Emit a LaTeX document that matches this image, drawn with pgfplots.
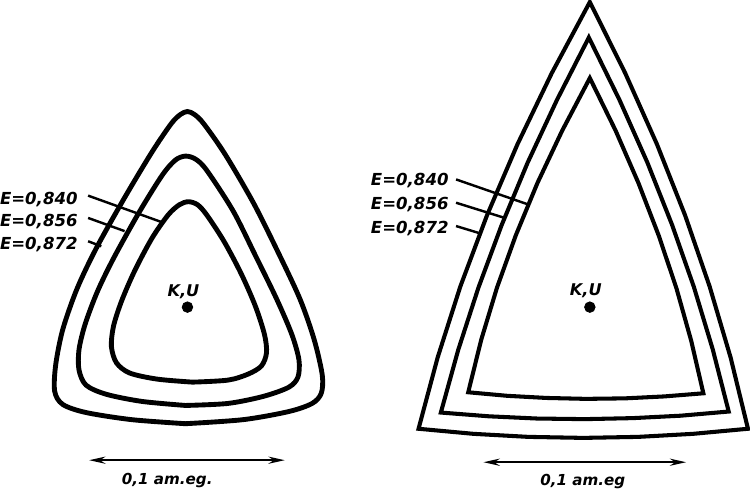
\documentclass[border=0pt]{standalone}
\usepackage{pgfplots}
\pgfplotsset{compat=1.18}
\usepackage{fontspec}
\setmainfont{DejaVu Sans}
\usetikzlibrary{arrows.meta}
\tikzset{
  lbl/.style={font=\fontsize{8.2}{10}\selectfont\bfseries\itshape, inner sep=0pt},
  kulbl/.style={font=\fontsize{8}{9}\selectfont\bfseries\itshape, inner sep=0pt},
  barlbl/.style={font=\fontsize{7.5}{9}\selectfont\bfseries\itshape, inner sep=0pt},
}

\begin{document}
\begin{tikzpicture}
\begin{axis}[
  scale only axis, width=375bp, height=246.5bp,
  xmin=0, xmax=750, ymin=0, ymax=493, y dir=reverse,
  hide axis, clip=false,
  every axis plot/.append style={black},
]
% ---------- left panel: rounded contours ----------
% E = 0,872
\addplot[smooth, line width=2.4bp] coordinates {
 (193,428) (140,424) (95,417) (72,409) (64,396) (65,370) (72,335) (86,295)
 (105,255) (133,205) (160,160) (179,132) (188,123) (195,120) (202,123) (211,132)
 (232,162) (260,210) (284,258) (306,305) (320,345) (328,380) (327,398) (318,408)
 (295,416) (250,424) (193,428)};
% E = 0,856
\addplot[smooth, line width=2.4bp] coordinates {
 (193,410) (150,406) (115,399) (95,390) (88,375) (88,355) (94,330) (106,298)
 (122,265) (147,220) (170,183) (183,168) (193,164) (203,167) (214,178) (240,218)
 (262,262) (283,305) (298,340) (305,365) (304,382) (295,392) (270,401) (235,408)
 (193,410)};
% E = 0,840
\addplot[smooth, line width=2.4bp] coordinates {
 (200,387) (165,384) (138,378) (125,368) (120,352) (122,332) (130,307) (143,277)
 (160,245) (176,222) (187,212) (196,209) (205,212) (214,222) (231,248) (248,280)
 (262,312) (271,340) (273,358) (268,371) (255,379) (235,385) (200,387)};
% centre point
\addplot[only marks, mark=*, mark size=2.6bp] coordinates {(195,313)};
\node[kulbl] at (axis cs:191,298) {K,U};
% leader lines and labels
\addplot[line width=1.2bp] coordinates {(97,203) (172,230)};
\addplot[line width=1.2bp] coordinates {(97,225) (133,238)};
\addplot[line width=1.2bp] coordinates {(97,248) (110,253)};
\node[lbl, anchor=east] at (axis cs:87,207) {E=0,840};
\node[lbl, anchor=east] at (axis cs:87,229) {E=0,856};
\node[lbl, anchor=east] at (axis cs:87,251) {E=0,872};
% scale bar
\addplot[line width=1.2bp, {Stealth[length=8bp,width=3.5bp]}-{Stealth[length=8bp,width=3.5bp]}]
  coordinates {(98,464) (291,464)};
\node[barlbl] at (axis cs:175,484) {0,1 am.eg.};

% ---------- right panel: sharp-cornered contours ----------
% E = 0,872
\addplot[line width=2bp, line join=miter] coordinates {
 (585.5,442) (531.3,441) (477.2,438) (423,433)
 (441.8,362.8) (464.2,292.7) (490.5,222.5) (520.6,152.3) (554.4,82.2) (592,12)
 (626.9,82.2) (658.2,152.3) (686,222.5) (710.2,292.7) (730.9,362.8) (748,433)
 (693.8,438) (639.7,441) (585.5,442)};
% E = 0,856
\addplot[line width=2bp, line join=miter] coordinates {
 (587,423.5) (539.7,422.9) (492.3,420.7) (445,417)
 (462.1,355.3) (482.1,293.7) (505,232) (530.7,170.3) (559.5,108.7) (591,47)
 (621.2,108.5) (648.6,170) (673,231.5) (694.6,293) (713.2,354.5) (729,416)
 (681.7,420.1) (634.3,422.5) (587,423.5)};
% E = 0,840
\addplot[line width=2bp, line join=miter] coordinates {
 (588,403.5) (549.3,402.6) (510.7,400.5) (472,397)
 (484.8,345.3) (500.4,293.7) (519,242) (540.4,190.3) (564.8,138.7) (592,87)
 (617.4,138.8) (640,190.7) (660,242.5) (677.4,294.3) (692,346.2) (704,398)
 (665.3,401.1) (626.7,403) (588,403.5)};
% centre point
\addplot[only marks, mark=*, mark size=2.6bp] coordinates {(592,313)};
\node[kulbl] at (axis cs:588,297) {K,U};
% leader lines and labels
\addplot[line width=1.2bp] coordinates {(460,187) (532,212)};
\addplot[line width=1.2bp] coordinates {(460,210) (508,225)};
\addplot[line width=1.2bp] coordinates {(460,233) (483,240)};
\node[lbl, anchor=east] at (axis cs:453,188) {E=0,840};
\node[lbl, anchor=east] at (axis cs:453,212) {E=0,856};
\node[lbl, anchor=east] at (axis cs:453,235) {E=0,872};
% scale bar
\addplot[line width=1.2bp, {Stealth[length=8bp,width=3.5bp]}-{Stealth[length=8bp,width=3.5bp]}]
  coordinates {(487,466) (687,466)};
\node[barlbl] at (axis cs:585,485) {0,1 am.eg};
\end{axis}
\end{tikzpicture}
\end{document}
